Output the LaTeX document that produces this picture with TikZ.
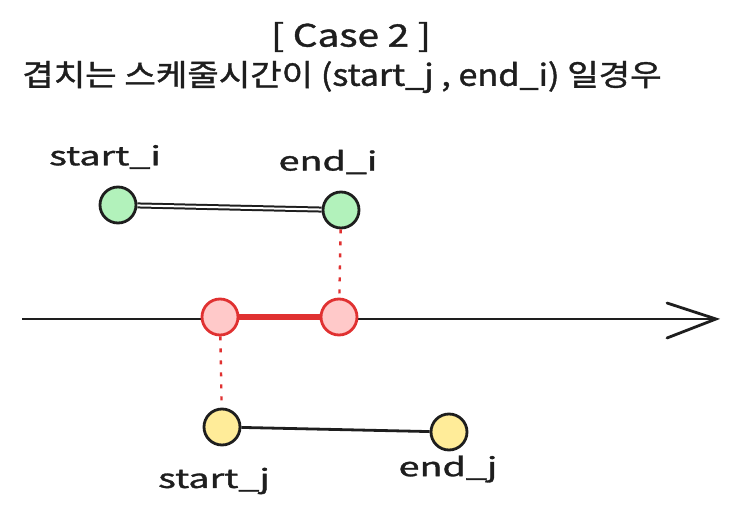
\documentclass[tikz,border=0pt]{standalone}
\usepackage{fontspec}
\setmainfont{Noto Sans CJK KR}[FakeBold=1.2]
\usetikzlibrary{arrows.meta}
\definecolor{gfill}{HTML}{B2F2BB}
\definecolor{rfill}{HTML}{FFC9C9}
\definecolor{rline}{HTML}{E03131}
\definecolor{yfill}{HTML}{FFEC99}
\definecolor{ink}{HTML}{1E1E1E}
\newcommand{\wide}[2]{\scalebox{#1}[1]{#2}}
\tikzset{
  dot/.style={circle, minimum size=36pt, inner sep=0pt, line width=2.8pt},
  gdot/.style={dot, draw=ink, fill=gfill},
  rdot/.style={dot, draw=rline, fill=rfill},
  ydot/.style={dot, draw=ink, fill=yfill},
  lbl/.style={font=\fontsize{26}{30}\selectfont, text=ink, inner sep=0pt},
  guide/.style={rline, line width=2.4pt, dash pattern=on 4pt off 8pt},
}
\begin{document}
\begin{tikzpicture}[x=1pt,y=-1pt]
\useasboundingbox (0,0) rectangle (736,521);
\node[lbl, font=\fontsize{31}{34}\selectfont] (title) at (351,37) {\wide{1.25}{[ Case 2 ]}};
\node[lbl, font=\fontsize{30}{34}\selectfont] (sub) at (342,77) {\wide{1.14}{겹치는 스케줄시간이 (start\_j , end\_i) 일경우}};
\node[lbl] (lsi) at (105,157) {\wide{1.45}{start\_i}};
\node[lbl] (lei) at (328,162) {\wide{1.45}{end\_i}};
\node[lbl] (lsj) at (214,481) {\wide{1.45}{start\_j}};
\node[lbl] (lej) at (448,469) {\wide{1.45}{end\_j}};
% axis
\coordinate (a0) at (22,319);
\coordinate (a1) at (716,319);
\coordinate (w1) at (667,303);
\coordinate (w2) at (667,338);
\draw[ink, line width=2.6pt] (a0) -- (a1);
\draw[ink, line width=2.8pt, line cap=round] (w1) -- (a1) -- (w2);
% green
\node[gdot] (g1) at (118,205) {};
\node[gdot] (g2) at (341,210) {};
\draw[ink, double=white, double distance=2pt, line width=2pt] (g1) -- (g2);
% red
\node[rdot] (r1) at (220,317) {};
\node[rdot] (r2) at (339,317) {};
\draw[rline, line width=6.5pt] (r1) -- (r2);
% yellow
\node[ydot] (y1) at (222,427) {};
\node[ydot] (y2) at (449,432) {};
\draw[ink, line width=2.8pt] (y1) -- (y2);
% guides
\draw[guide] (g2) -- (r2);
\draw[guide] (r1) -- (y1);
\end{tikzpicture}
\end{document}
